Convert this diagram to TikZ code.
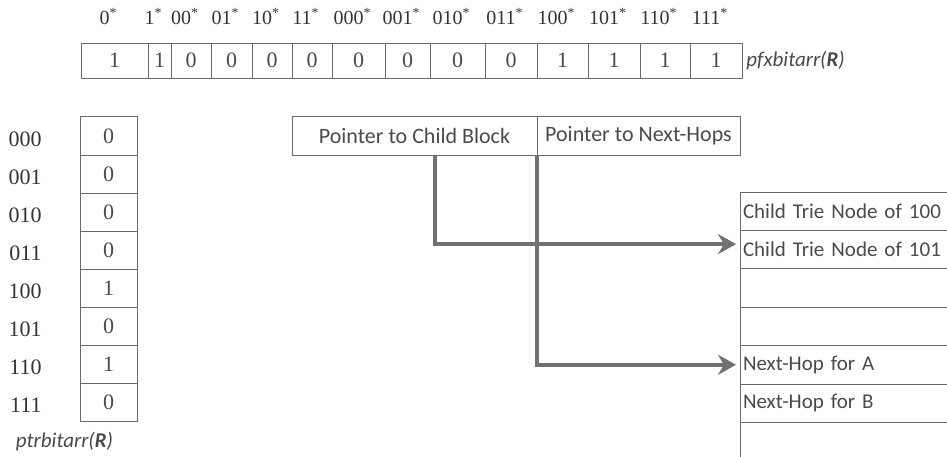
\documentclass[tikz,border=0pt]{standalone}
\usepackage{fontspec}
\setmainfont{Liberation Serif}
\newfontfamily\boxfont{Carlito}
\usetikzlibrary{arrows.meta,positioning}

\definecolor{linegray}{HTML}{6A6A6A}
\definecolor{textgray}{HTML}{4A4A4A}
\definecolor{taggray}{HTML}{333333}
\definecolor{arrowgray}{HTML}{717171}

\tikzset{
  bitcell/.style={draw=linegray, line width=0.5pt, inner sep=0pt, outer sep=0pt,
    text=textgray, font=\fontsize{11}{13}\selectfont},
  pfxtag/.style={inner sep=0pt, text=taggray, font=\fontsize{10}{12}\selectfont},
  slot/.style={draw=linegray, line width=0.5pt, outer sep=0pt, inner ysep=0pt,
    inner xsep=1.5pt, minimum height=19.2pt, text=textgray,
    font=\boxfont\fontsize{10.5}{12}\selectfont},
  arrname/.style={inner sep=0pt, text=textgray, font=\boxfont\itshape\fontsize{10.5}{12}\selectfont},
  ptrarrow/.style={draw=arrowgray, line width=2pt, shorten >=2pt,
    -{Stealth[length=9pt,width=10pt,inset=3pt]}},
}

\begin{document}
\begin{tikzpicture}[x=0.5pt,y=-0.5pt]
  \clip (0,0) rectangle (947,456);
  % pfxbitarr, one cell per prefix
  \foreach \l/\r/\v/\p [count=\i] in {81/148/1/0, 148/171/1/1, 171/211/0/00,
      211/252/0/01, 252/292/0/10, 292/332/0/11, 332/385/0/000, 385/430/0/001,
      430/485/0/010, 485/537/0/011, 537/588/1/100, 588/640/1/101,
      640/690/1/110, 690/742/1/111}{
    \pgfmathsetmacro\w{(\r-\l)*0.5}
    \node[bitcell, minimum width=\w pt, minimum height=17.5pt] (pfx\i) at ({(\l+\r)/2},60.5) {\v};
    \node[pfxtag, above=9pt of pfx\i, xshift=-3pt] (pfxlab\i) {\p\textsuperscript{*}};
  }
  \node[arrname, right=2pt of pfx14] (pfxname) {pfxbitarr(\textbf{R})};

  % ptrbitarr
  \foreach \b/\v [count=\i from 0] in {000/0, 001/0, 010/0, 011/0, 100/1, 101/0, 110/1, 111/0}{
    \node[bitcell, minimum width=28.5pt, minimum height=19.05pt] (ptr\i) at (108.5,{136+38.1*\i}) {\v};
    \node[pfxtag, font=\fontsize{11}{13}\selectfont, left=19pt of ptr\i, yshift=-1.5pt] (ptrlab\i) {\b};
  }
  \node[arrname, below=5pt of ptr7, xshift=-22pt] (ptrname) {ptrbitarr(\textbf{R})};

  % the two pointers
  \node[slot, minimum width=122.5pt, font=\boxfont\fontsize{11}{13}\selectfont] (ptrchild) at (414.5,136) {Pointer to Child Block};
  \node[slot, minimum width=101.5pt, font=\boxfont\fontsize{11}{13}\selectfont, right=0pt of ptrchild] (ptrhop) {Pointer to Next-Hops};

  % child block and next-hop block
  \node[slot, anchor=north west, text width=122pt, align=left] (blk0) at (740,192) {Child Trie Node of 100};
  \node[slot, below=0pt of blk0, text width=122pt, align=left] (blk1) {Child Trie Node of 101};
  \node[slot, below=0pt of blk1, text width=122pt, align=left] (blk2) {};
  \node[slot, below=0pt of blk2, text width=122pt, align=left] (blk3) {};
  \node[slot, below=0pt of blk3, text width=122pt, align=left] (blk4) {Next-Hop for A};
  \node[slot, below=0pt of blk4, text width=122pt, align=left] (blk5) {Next-Hop for B};
  \node[slot, below=0pt of blk5, text width=122pt, align=left] (blk6) {};

  \draw[ptrarrow] ([xshift=10pt]ptrchild.south) |- ([yshift=2.75pt]blk1.west);
  \draw[ptrarrow] (ptrchild.south east) |- (blk4.west);
\end{tikzpicture}
\end{document}
